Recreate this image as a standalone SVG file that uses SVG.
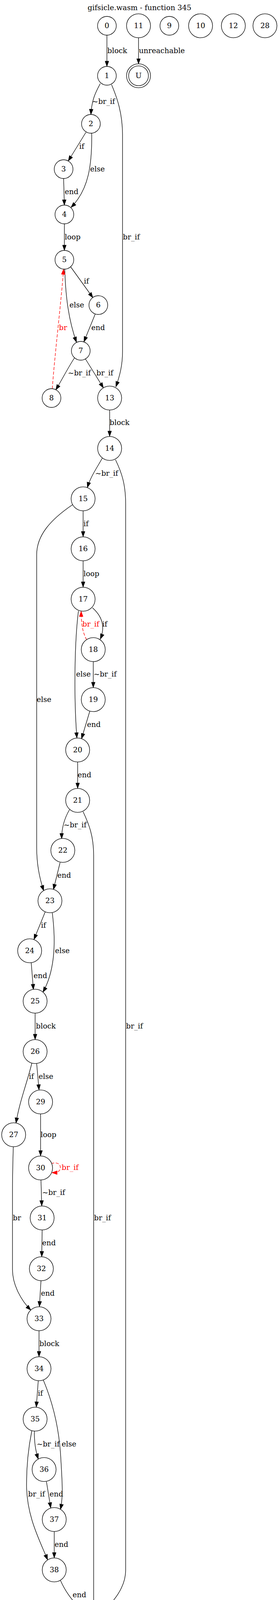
<svg xmlns="http://www.w3.org/2000/svg" width="715" height="4311" viewBox="0 0 715 4311">
<defs>
<style>
.n ellipse{fill:#fff;stroke:#000;stroke-width:1.33}
.n text,.lbl{font-family:"DejaVu Serif","Liberation Serif",serif;font-size:18.67px;fill:#000}
.n text{text-anchor:middle}
.e{fill:none;stroke:#000;stroke-width:1.33;marker-end:url(#arr)}
.r{fill:none;stroke:#f00;stroke-width:1.33;stroke-dasharray:8,4;marker-end:url(#arrR)}
.rl{fill:#f00}
</style>
<marker id="arr" markerUnits="userSpaceOnUse" markerWidth="15" markerHeight="11" viewBox="0 0 15 11" refX="14" refY="5.5" orient="auto"><path d="M0.7,0.8 L14,5.5 L0.7,10.2 z" fill="#000" stroke="#000" stroke-width="1"/></marker>
<marker id="arrR" markerUnits="userSpaceOnUse" markerWidth="15" markerHeight="11" viewBox="0 0 15 11" refX="14" refY="5.5" orient="auto"><path d="M0.7,0.8 L14,5.5 L0.7,10.2 z" fill="#f00" stroke="#f00" stroke-width="1"/></marker>
</defs>
<rect width="715" height="4311" fill="#fff"/>
<text class="lbl" x="357.5" y="26" text-anchor="middle">gifsicle.wasm - function 345</text>
<g id="edges">
<g id="e0_1"><path class="e" d="M274,90 L274,170"/><text class="lbl" x="275" y="136">block</text></g>
<g id="e11_U"><path class="e" d="M355,97 L355,163.5"/><text class="lbl" x="356" y="136">unreachable</text></g>
<g id="e1_2"><path class="e" d="M257,214 C246,234 235,255 233,293"/><text class="lbl" x="236" y="266">~br_if</text></g>
<g id="e1_13"><path class="e" d="M286,217 C300,250 314,290 314,345 L314,900 C314,935 307,962 297,990"/><text class="lbl" x="315" y="613">br_if</text></g>
<g id="e2_3"><path class="e" d="M220,339 L175,412"/><text class="lbl" x="203" y="381">if</text></g>
<g id="e2_4"><path class="e" d="M235,341 C236,420 228,485 182,531"/><text class="lbl" x="231" y="439">else</text></g>
<g id="e3_4"><path class="e" d="M163,457 L165,525"/><text class="lbl" x="166" y="497">end</text></g>
<g id="e4_5"><path class="e" d="M165,573 L165,641"/><text class="lbl" x="166" y="613">loop</text></g>
<g id="e5_6"><path class="e" d="M181,683 L238,762"/><text class="lbl" x="215" y="726">if</text></g>
<g id="e5_7"><path class="e" d="M166,689 C168,760 176,820 196,876"/><text class="lbl" x="178" y="787">else</text></g>
<g id="e6_7"><path class="e" d="M244,804 L215,875"/><text class="lbl" x="234" y="845">end</text></g>
<g id="e8_5"><path class="r" d="M134,995 C141,900 156,780 163,689"/><text class="lbl rl" x="151" y="845">br</text></g>
<g id="e7_8"><path class="e" d="M191,916 C175,940 160,970 143,998"/><text class="lbl" x="174" y="961">~br_if</text></g>
<g id="e7_13"><path class="e" d="M219,919 L265,993"/><text class="lbl" x="247" y="961">br_if</text></g>
<g id="e13_14"><path class="e" d="M281,1050 L281,1117"/><text class="lbl" x="281" y="1088">block</text></g>
<g id="e14_15"><path class="e" d="M262,1173 C250,1195 232,1220 224,1248"/><text class="lbl" x="244" y="1218">~br_if</text></g>
<g id="e14_39"><path class="e" d="M296,1177 C312,1210 322,1240 322,1290 L322,4020 C322,4065 290,4100 263,4128"/><text class="lbl" x="323" y="2633">br_if</text></g>
<g id="e15_16"><path class="e" d="M213,1308 L213,1374"/><text class="lbl" x="214" y="1347">if</text></g>
<g id="e15_23"><path class="e" d="M186,1292 C130,1330 94,1370 94,1420 L94,2170 C94,2210 100,2245 112,2280"/><text class="lbl" x="94" y="1797">else</text></g>
<g id="e16_17"><path class="e" d="M213,1436 L213,1503"/><text class="lbl" x="214" y="1475">loop</text></g>
<g id="e17_18"><path class="e" d="M237,1556 C262,1578 270,1605 257,1636"/><text class="lbl" x="262" y="1604">if</text></g>
<g id="e18_17"><path class="r" d="M222,1638 C214,1622 208,1605 208,1565"/><text class="lbl rl" x="211" y="1604">br_if</text></g>
<g id="e17_20"><path class="e" d="M201,1564 C194,1620 192,1680 192,1750 C192,1810 194,1850 197,1889"/><text class="lbl" x="195" y="1732">else</text></g>
<g id="e18_19"><path class="e" d="M239,1694 L239,1760"/><text class="lbl" x="240" y="1732">~br_if</text></g>
<g id="e19_20"><path class="e" d="M230,1821 L209,1891"/><text class="lbl" x="223" y="1861">end</text></g>
<g id="e20_21"><path class="e" d="M199,1951 L199,2018"/><text class="lbl" x="199" y="1990">end</text></g>
<g id="e21_22"><path class="e" d="M178,2073 C165,2095 158,2120 158,2147"/><text class="lbl" x="163" y="2118">~br_if</text></g>
<g id="e21_39"><path class="e" d="M213,2078 C228,2110 240,2140 240,2190 L240,4117"/><text class="lbl" x="241" y="3124">br_if</text></g>
<g id="e22_23"><path class="e" d="M154,2208 L137,2277"/><text class="lbl" x="147" y="2247">end</text></g>
<g id="e23_24"><path class="e" d="M116,2334 L87,2405"/><text class="lbl" x="105" y="2375">if</text></g>
<g id="e23_25"><path class="e" d="M134,2337 C142,2400 144,2480 110,2540"/><text class="lbl" x="141" y="2440">else</text></g>
<g id="e24_25"><path class="e" d="M80,2465 L85.6,2533"/><text class="lbl" x="86" y="2504">end</text></g>
<g id="e25_26"><path class="e" d="M90,2594 L90,2661"/><text class="lbl" x="92" y="2633">block</text></g>
<g id="e26_27"><path class="e" d="M81.5,2722 C70,2770 50,2820 41,2875"/><text class="lbl" x="74" y="2762">if</text></g>
<g id="e26_29"><path class="e" d="M94,2723 L100,2790"/><text class="lbl" x="99" y="2762">else</text></g>
<g id="e29_30"><path class="e" d="M104,2852 L104,2959"/><text class="lbl" x="104" y="2911">loop</text></g>
<g id="e30_30"><path class="r" d="M131,2979 C150,2972 160,2985 152,2997 C149,3000 142,3002 133,3002"/><text class="lbl rl" x="158" y="2995">br_if</text></g>
<g id="e30_31"><path class="e" d="M105,3021 L107,3087"/><text class="lbl" x="108" y="3059">~br_if</text></g>
<g id="e27_33"><path class="e" d="M34,2936 C33,2980 32,3000 32,3050 L32,3250 C32,3290 55,3330 79,3354"/><text class="lbl" x="33" y="3124">br</text></g>
<g id="e31_32"><path class="e" d="M108,3149 L107,3217"/><text class="lbl" x="108" y="3188">end</text></g>
<g id="e32_33"><path class="e" d="M105,3279 L101,3345"/><text class="lbl" x="105" y="3317">end</text></g>
<g id="e33_34"><path class="e" d="M100,3407 L100,3473"/><text class="lbl" x="101" y="3446">block</text></g>
<g id="e34_35"><path class="e" d="M98,3535 L93,3602"/><text class="lbl" x="97" y="3573">if</text></g>
<g id="e34_37"><path class="e" d="M111,3533 C135,3590 150,3650 155,3720 C160,3800 162,3830 155,3864"/><text class="lbl" x="158" y="3703">else</text></g>
<g id="e35_36"><path class="e" d="M88,3664 C88,3690 90,3710 98,3735"/><text class="lbl" x="94" y="3703">~br_if</text></g>
<g id="e35_38"><path class="e" d="M81.5,3663 C72,3710 68,3760 68,3800 C68,3880 100,3940 122,3993"/><text class="lbl" x="72" y="3831">br_if</text></g>
<g id="e36_37"><path class="e" d="M119,3793 L130,3860"/><text class="lbl" x="127" y="3831">end</text></g>
<g id="e37_38"><path class="e" d="M139,3921 L139,3988"/><text class="lbl" x="140" y="3960">end</text></g>
<g id="e38_39"><path class="e" d="M155,4046 C170,4080 190,4105 218,4128"/><text class="lbl" x="186" y="4089">end</text></g>
<g id="e39_E"><path class="e" d="M240,4179 L240,4246"/><text class="lbl" x="241" y="4218">end</text></g>
</g>
<g id="node-0" class="n"><ellipse cx="274" cy="66" rx="24" ry="24"/><text x="274" y="71.6">0</text></g>
<g id="node-11" class="n"><ellipse cx="355" cy="66" rx="30.7" ry="30.7"/><text x="355" y="71.6">11</text></g>
<g id="node-9" class="n"><ellipse cx="434" cy="66" rx="24" ry="24"/><text x="434" y="71.6">9</text></g>
<g id="node-10" class="n"><ellipse cx="514" cy="66" rx="30.7" ry="30.7"/><text x="514" y="71.6">10</text></g>
<g id="node-12" class="n"><ellipse cx="598" cy="66" rx="30.7" ry="30.7"/><text x="598" y="71.6">12</text></g>
<g id="node-28" class="n"><ellipse cx="679" cy="66" rx="30.7" ry="30.7"/><text x="679" y="71.6">28</text></g>
<g id="node-1" class="n"><ellipse cx="274" cy="194" rx="24" ry="24"/><text x="274" y="199.6">1</text></g>
<g id="node-U" class="n"><ellipse cx="355" cy="194" rx="30.7" ry="30.7"/><ellipse cx="355" cy="194" rx="25.4" ry="25.4"/><text x="355" y="199.6">U</text></g>
<g id="node-2" class="n"><ellipse cx="233" cy="317" rx="24" ry="24"/><text x="233" y="322.6">2</text></g>
<g id="node-3" class="n"><ellipse cx="163" cy="433" rx="24" ry="24"/><text x="163" y="438.6">3</text></g>
<g id="node-4" class="n"><ellipse cx="165" cy="549" rx="24" ry="24"/><text x="165" y="554.6">4</text></g>
<g id="node-5" class="n"><ellipse cx="165" cy="665" rx="24" ry="24"/><text x="165" y="670.6">5</text></g>
<g id="node-6" class="n"><ellipse cx="252" cy="781" rx="24" ry="24"/><text x="252" y="786.6">6</text></g>
<g id="node-7" class="n"><ellipse cx="207" cy="898" rx="24" ry="24"/><text x="207" y="903.6">7</text></g>
<g id="node-8" class="n"><ellipse cx="132" cy="1019" rx="24" ry="24"/><text x="132" y="1024.6">8</text></g>
<g id="node-13" class="n"><ellipse cx="281" cy="1019" rx="30.7" ry="30.7"/><text x="281" y="1024.6">13</text></g>
<g id="node-14" class="n"><ellipse cx="281" cy="1148" rx="30.7" ry="30.7"/><text x="281" y="1153.6">14</text></g>
<g id="node-15" class="n"><ellipse cx="213" cy="1277" rx="30.7" ry="30.7"/><text x="213" y="1282.6">15</text></g>
<g id="node-16" class="n"><ellipse cx="213" cy="1405" rx="30.7" ry="30.7"/><text x="213" y="1410.6">16</text></g>
<g id="node-17" class="n"><ellipse cx="213" cy="1534" rx="30.7" ry="30.7"/><text x="213" y="1539.6">17</text></g>
<g id="node-18" class="n"><ellipse cx="239" cy="1663" rx="30.7" ry="30.7"/><text x="239" y="1668.6">18</text></g>
<g id="node-19" class="n"><ellipse cx="239" cy="1791" rx="30.7" ry="30.7"/><text x="239" y="1796.6">19</text></g>
<g id="node-20" class="n"><ellipse cx="199" cy="1920" rx="30.7" ry="30.7"/><text x="199" y="1925.6">20</text></g>
<g id="node-21" class="n"><ellipse cx="199" cy="2049" rx="30.7" ry="30.7"/><text x="199" y="2054.6">21</text></g>
<g id="node-22" class="n"><ellipse cx="161" cy="2177" rx="30.7" ry="30.7"/><text x="161" y="2182.6">22</text></g>
<g id="node-23" class="n"><ellipse cx="128" cy="2306" rx="30.7" ry="30.7"/><text x="128" y="2311.6">23</text></g>
<g id="node-24" class="n"><ellipse cx="76" cy="2434" rx="30.7" ry="30.7"/><text x="76" y="2439.6">24</text></g>
<g id="node-25" class="n"><ellipse cx="90" cy="2563" rx="30.7" ry="30.7"/><text x="90" y="2568.6">25</text></g>
<g id="node-26" class="n"><ellipse cx="90" cy="2692" rx="30.7" ry="30.7"/><text x="90" y="2697.6">26</text></g>
<g id="node-27" class="n"><ellipse cx="35" cy="2905" rx="30.7" ry="30.7"/><text x="35" y="2910.6">27</text></g>
<g id="node-29" class="n"><ellipse cx="104" cy="2821" rx="30.7" ry="30.7"/><text x="104" y="2826.6">29</text></g>
<g id="node-30" class="n"><ellipse cx="104" cy="2990" rx="30.7" ry="30.7"/><text x="104" y="2995.6">30</text></g>
<g id="node-31" class="n"><ellipse cx="108" cy="3118" rx="30.7" ry="30.7"/><text x="108" y="3123.6">31</text></g>
<g id="node-32" class="n"><ellipse cx="106" cy="3248" rx="30.7" ry="30.7"/><text x="106" y="3253.6">32</text></g>
<g id="node-33" class="n"><ellipse cx="100" cy="3376" rx="30.7" ry="30.7"/><text x="100" y="3381.6">33</text></g>
<g id="node-34" class="n"><ellipse cx="100" cy="3504" rx="30.7" ry="30.7"/><text x="100" y="3509.6">34</text></g>
<g id="node-35" class="n"><ellipse cx="90" cy="3633" rx="30.7" ry="30.7"/><text x="90" y="3638.6">35</text></g>
<g id="node-36" class="n"><ellipse cx="113" cy="3762" rx="30.7" ry="30.7"/><text x="113" y="3767.6">36</text></g>
<g id="node-37" class="n"><ellipse cx="139" cy="3890" rx="30.7" ry="30.7"/><text x="139" y="3895.6">37</text></g>
<g id="node-38" class="n"><ellipse cx="139" cy="4019" rx="30.7" ry="30.7"/><text x="139" y="4024.6">38</text></g>
<g id="node-39" class="n"><ellipse cx="240" cy="4148" rx="30.7" ry="30.7"/><text x="240" y="4153.6">39</text></g>
<g id="node-E" class="n"><ellipse cx="240" cy="4276" rx="29.7" ry="29.7"/><ellipse cx="240" cy="4276" rx="24.6" ry="24.6"/><text x="240" y="4281.6">E</text></g>
</svg>
